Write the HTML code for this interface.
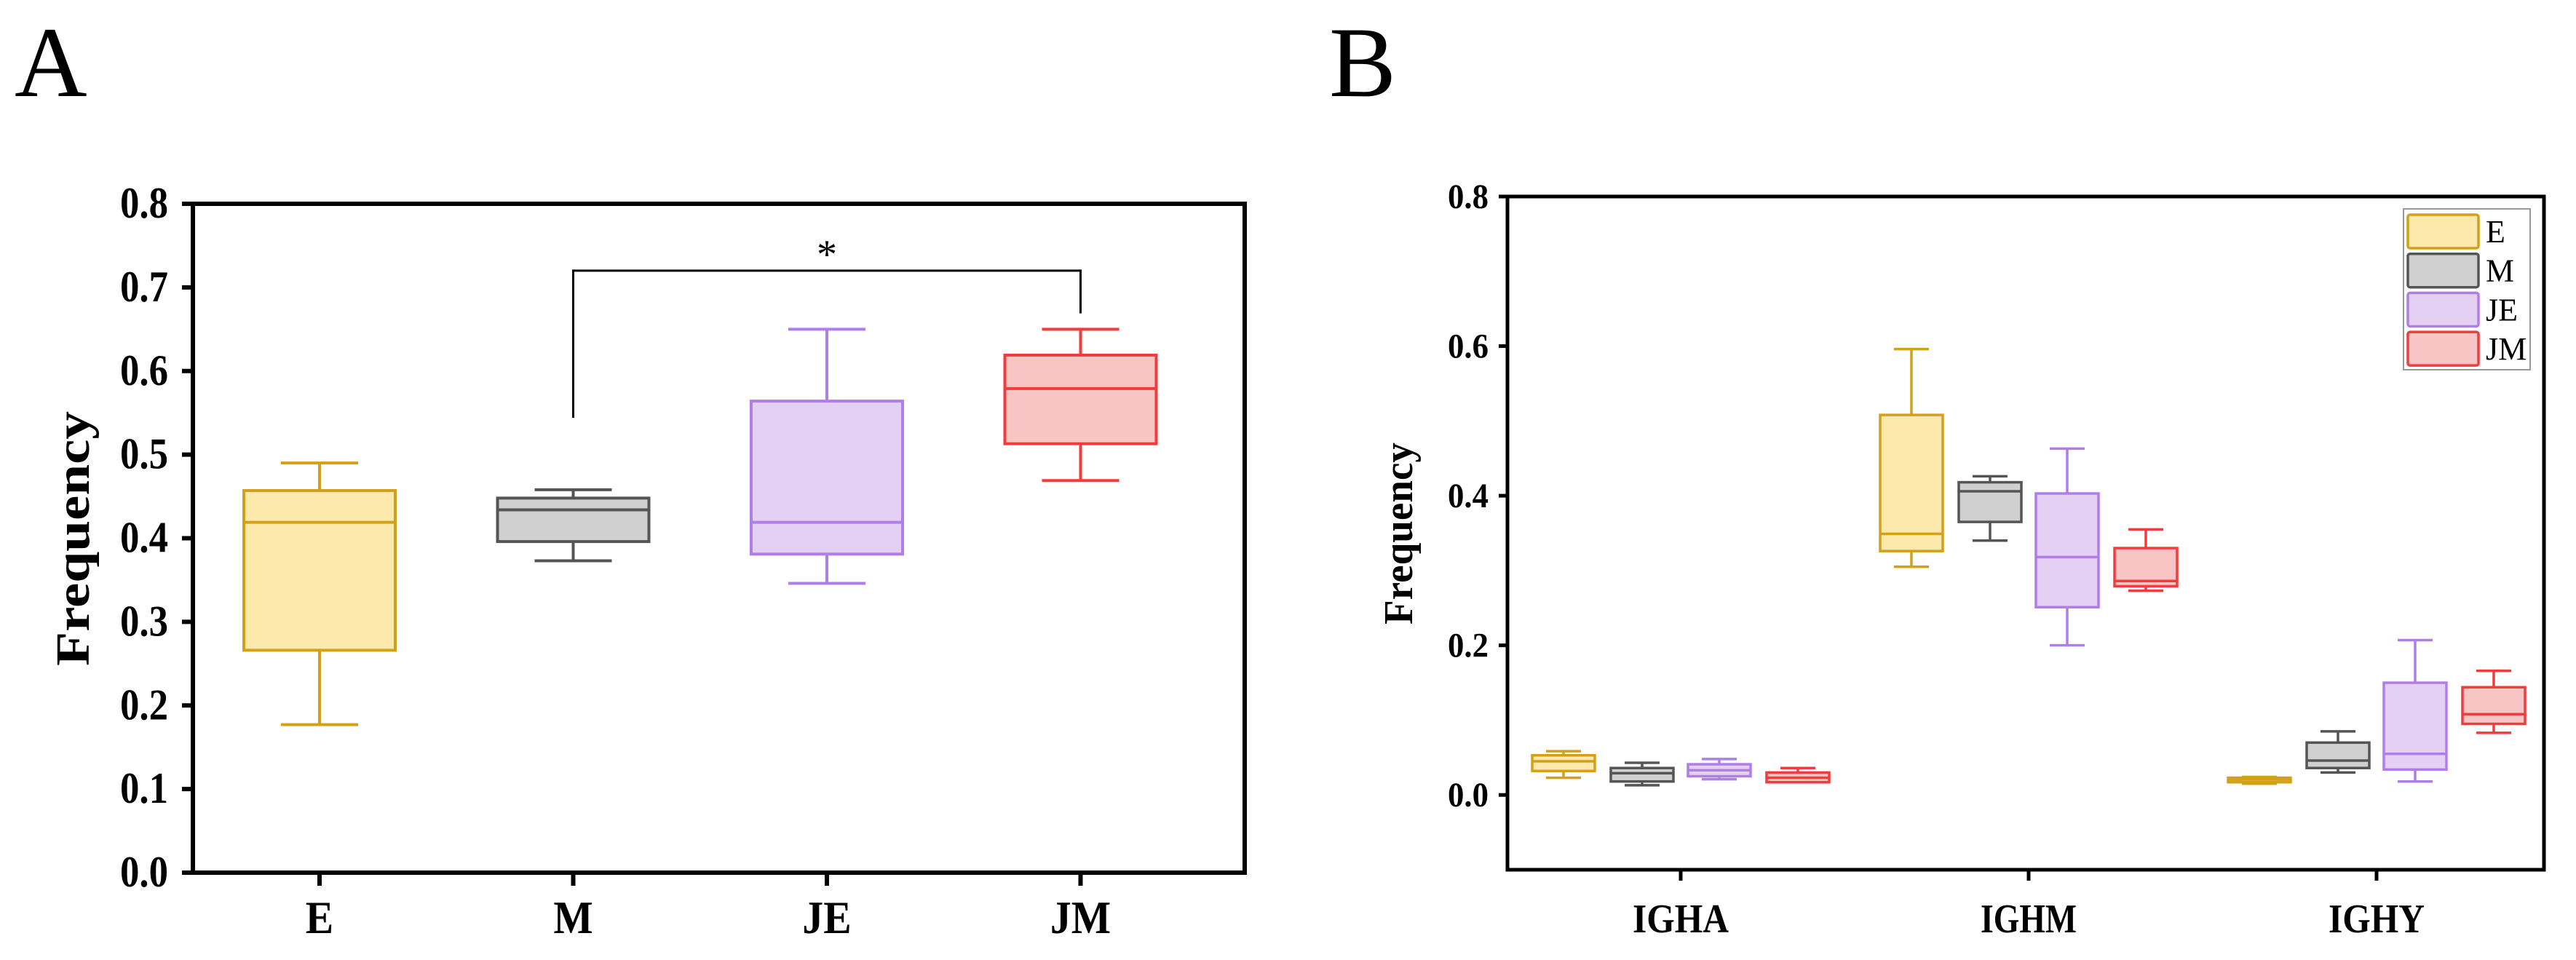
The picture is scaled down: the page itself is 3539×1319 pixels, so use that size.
<!DOCTYPE html>
<html><head><meta charset="utf-8"><style>
html,body{margin:0;padding:0;background:#fff;}
svg{display:block;}
text{font-family:"Liberation Serif",serif;}
</style></head><body>
<svg id="chart" width="3539" height="1319" viewBox="0 0 3539 1319" xmlns="http://www.w3.org/2000/svg">
<text x="20" y="132" font-size="138">A</text>
<text x="1826" y="132" font-size="138">B</text>
<g id="pa"></g>
<g id="pb"></g>
</svg>
<script>
// ---- Panel A data ----
const catsA = ["E","M","JE","JM"];
const lowA = [0.177,0.373,0.346,0.469];
const q1A  = [0.266,0.396,0.381,0.513];
const medA = [0.419,0.434,0.419,0.579];
const q3A  = [0.457,0.448,0.564,0.619];
const highA= [0.490,0.458,0.650,0.650];
const ticksA = ["0.0","0.1","0.2","0.3","0.4","0.5","0.6","0.7","0.8"];
// ---- Panel B data ----
const groupsB = ["IGHA","IGHM","IGHY"];
const seriesB = ["E","M","JE","JM"];
const lowB = [[0.023,0.013,0.021,0.017],[0.305,0.340,0.200,0.273],[0.015,0.030,0.018,0.083]];
const q1B  = [[0.032,0.018,0.025,0.017],[0.326,0.365,0.251,0.279],[0.017,0.036,0.034,0.095]];
const medB = [[0.045,0.029,0.033,0.023],[0.349,0.406,0.318,0.286],[0.0205,0.046,0.055,0.108]];
const q3B  = [[0.053,0.036,0.041,0.030],[0.508,0.418,0.403,0.330],[0.023,0.070,0.150,0.144]];
const highB= [[0.0585,0.043,0.048,0.036],[0.596,0.426,0.463,0.355],[0.024,0.085,0.207,0.166]];
const ticksB = ["0.0","0.2","0.4","0.6","0.8"];

const strokeC = ["#d4a017","#555555","#b07ee8","#f03c3c"];
const fillC   = ["#fde9ab","#d0d0d0","#e3d0f2","#f8c4c4"];
const NS="http://www.w3.org/2000/svg";
function mk(parent,tag,attrs){const e=document.createElementNS(NS,tag);for(const k in attrs)e.setAttribute(k,attrs[k]);parent.appendChild(e);return e;}

// ===== Panel A =====
const pa=document.getElementById('pa');
const A={l:265,r:1710,t:280,b:1199,min:0,max:0.8};
const yA=v=>A.b-(v-A.min)/(A.max-A.min)*(A.b-A.t);
const xA=i=>439+i*348.5;
let bg=mk(pa,'rect',{x:A.l,y:A.t,width:A.r-A.l,height:A.b-A.t,fill:'none',stroke:'#000','stroke-width':6});


ticksA.forEach((t)=>{const v=parseFloat(t);const y=yA(v);
  const l=mk(pa,'line',{x1:A.l-15,x2:A.l,y1:y,y2:y,stroke:'#000','stroke-width':6});
  
  
  const tx=mk(pa,'text',{x:A.l-100,y:y+19,'font-size':60,'font-weight':'bold',textLength:66,lengthAdjust:'spacingAndGlyphs'});tx.textContent=t;
  
  
});
catsA.forEach((c,i)=>{const x=xA(i);
  const l=mk(pa,'line',{x1:x,x2:x,y1:A.b,y2:A.b+18,stroke:'#000','stroke-width':6});
  
  
  const tx=mk(pa,'text',{x:0,y:0,'text-anchor':'middle','font-size':64,'font-weight':'bold',transform:`translate(${x},${A.b+83}) scale(0.9,1)`});tx.textContent=c;
  
  
  const g=mk(pa,'g',{});
  
  
  const hw=104,cw=53,s=strokeC[i];
  mk(g,'line',{x1:x,x2:x,y1:yA(highA[i]),y2:yA(q3A[i]),stroke:s,'stroke-width':4});
  mk(g,'line',{x1:x,x2:x,y1:yA(q1A[i]),y2:yA(lowA[i]),stroke:s,'stroke-width':4});
  mk(g,'line',{x1:x-cw,x2:x+cw,y1:yA(highA[i]),y2:yA(highA[i]),stroke:s,'stroke-width':4});
  mk(g,'line',{x1:x-cw,x2:x+cw,y1:yA(lowA[i]),y2:yA(lowA[i]),stroke:s,'stroke-width':4});
  mk(g,'rect',{x:x-hw,y:yA(q3A[i]),width:2*hw,height:yA(q1A[i])-yA(q3A[i]),fill:fillC[i],stroke:s,'stroke-width':4});
  mk(g,'line',{x1:x-hw,x2:x+hw,y1:yA(medA[i]),y2:yA(medA[i]),stroke:s,'stroke-width':4});
});
let br=mk(pa,'path',{d:`M${xA(1)},${yA(0.544)} V${yA(0.72)} H${xA(3)} V${yA(0.669)}`,fill:'none',stroke:'#000','stroke-width':3});


let st=mk(pa,'text',{x:(xA(1)+xA(3))/2,y:yA(0.72)-4,'text-anchor':'middle','font-size':56});st.textContent='*';


let yla=mk(pa,'text',{x:-175,y:0,'font-size':66,'font-weight':'bold',textLength:350,lengthAdjust:'spacingAndGlyphs',transform:'translate(122,740) rotate(-90)'});yla.textContent='Frequency';



// ===== Panel B =====
const pb=document.getElementById('pb');
const B={l:2071,r:3495,t:270,b:1195,min:-0.1,max:0.8};
const yB=v=>B.b-(v-B.min)/(B.max-B.min)*(B.b-B.t);
const xB=i=>2309+i*478;
const offs=[-161,-53,53,161];
let fb=mk(pb,'rect',{x:B.l,y:B.t,width:B.r-B.l,height:B.b-B.t,fill:'none',stroke:'#000','stroke-width':5});


ticksB.forEach(t=>{const y=yB(parseFloat(t));
  const l=mk(pb,'line',{x1:B.l-12,x2:B.l,y1:y,y2:y,stroke:'#000','stroke-width':5});
  
  
  const tx=mk(pb,'text',{x:B.l-82,y:y+16,'font-size':48,'font-weight':'bold',textLength:56,lengthAdjust:'spacingAndGlyphs'});tx.textContent=t;
  
  
});
groupsB.forEach((gname,gi)=>{const cx=xB(gi);
  const l=mk(pb,'line',{x1:cx,x2:cx,y1:B.b,y2:B.b+15,stroke:'#000','stroke-width':5});
  
  
  const tx=mk(pb,'text',{x:cx-66,y:B.b+86,'font-size':56,'font-weight':'bold',textLength:132,lengthAdjust:'spacingAndGlyphs'});tx.textContent=gname;
  
  
  seriesB.forEach((sn,si)=>{const x=cx+offs[si];const hw=43,cw=24,s=strokeC[si];
    const g=mk(pb,'g',{});
    
    
    mk(g,'line',{x1:x,x2:x,y1:yB(highB[gi][si]),y2:yB(q3B[gi][si]),stroke:s,'stroke-width':3.5});
    mk(g,'line',{x1:x,x2:x,y1:yB(q1B[gi][si]),y2:yB(lowB[gi][si]),stroke:s,'stroke-width':3.5});
    mk(g,'line',{x1:x-cw,x2:x+cw,y1:yB(highB[gi][si]),y2:yB(highB[gi][si]),stroke:s,'stroke-width':3.5});
    mk(g,'line',{x1:x-cw,x2:x+cw,y1:yB(lowB[gi][si]),y2:yB(lowB[gi][si]),stroke:s,'stroke-width':3.5});
    mk(g,'rect',{x:x-hw,y:yB(q3B[gi][si]),width:2*hw,height:Math.max(1,yB(q1B[gi][si])-yB(q3B[gi][si])),fill:fillC[si],stroke:s,'stroke-width':3.5});
    mk(g,'line',{x1:x-hw,x2:x+hw,y1:yB(medB[gi][si]),y2:yB(medB[gi][si]),stroke:s,'stroke-width':3.5});
  });
});
let ylb=mk(pb,'text',{x:-125,y:0,'font-size':56,'font-weight':'bold',textLength:250,lengthAdjust:'spacingAndGlyphs',transform:'translate(1940,733) rotate(-90)'});ylb.textContent='Frequency';


// legend
const lg=mk(pb,'g',{});


mk(lg,'rect',{x:3302,y:287,width:174,height:221,fill:'#fff',stroke:'#999','stroke-width':2});
seriesB.forEach((sn,si)=>{const y=295+si*53.7;
  const e=mk(lg,'g',{});
  
  
  mk(e,'rect',{x:3308,y:y,width:97,height:46,rx:3,fill:fillC[si],stroke:strokeC[si],'stroke-width':3.5});
  const t=mk(e,'text',{x:3415,y:y+38,'font-size':44});t.textContent=sn;
});
</script>
</body></html>
